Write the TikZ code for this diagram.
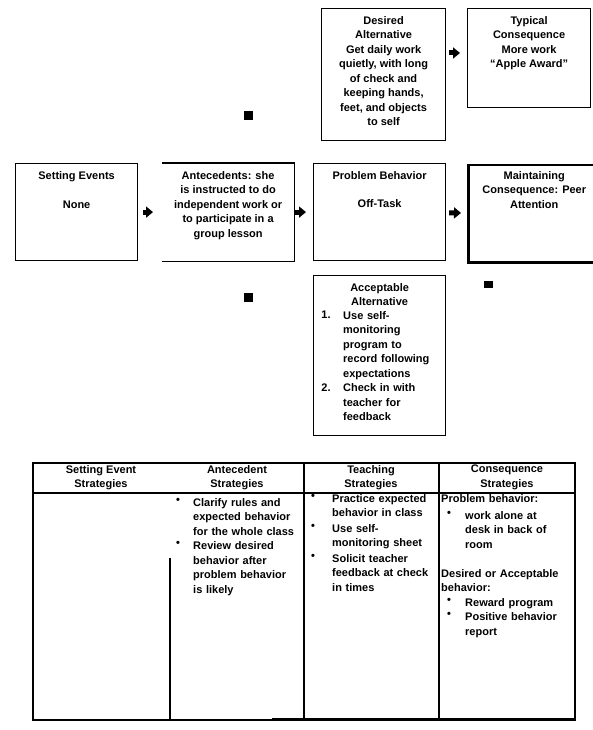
\documentclass[tikz,border=0pt]{standalone}
\usepackage{fontspec}
\setmainfont{Liberation Sans}
\usetikzlibrary{arrows.meta}
\tikzset{
  box/.style={draw, line width=1.2pt, anchor=north west, inner sep=0pt},
  boxtext/.style={anchor=north, align=center, inner sep=0pt, font=\bfseries\fontsize{11}{14.5}\selectfont},
  celltext/.style={anchor=north west, align=left, inner sep=0pt, font=\bfseries\fontsize{11}{14.5}\selectfont},
  dotmark/.style={anchor=north, inner sep=0pt, font=\bfseries\fontsize{11}{14.5}\selectfont},
  arr/.style={-{Triangle[length=7pt,width=11pt]}, line width=5pt, shorten <=5pt, shorten >=9pt},
}
\begin{document}
\begin{tikzpicture}[x=1pt,y=-1pt] % pathway and strategy table
  \useasboundingbox (0,0) rectangle (593,730);
  % pathway boxes
  \node[box, minimum width=124pt, minimum height=132pt] (desired) at (321,8) {};
  \node[box, minimum width=123pt, minimum height=99pt] (typical) at (467,8) {};
  \node[box, minimum width=122pt, minimum height=97pt] (setting) at (15,163) {};
  \node[box, draw=none, minimum width=131pt, minimum height=97pt] (ante) at (162,163) {};
  \draw[line width=1.2pt] (ante.north west) -- (ante.north east) -- (ante.south east) -- (ante.south west);
  \node[box, minimum width=132pt, minimum height=97pt] (problem) at (313,163) {};
  \node[box, line width=2.5pt, minimum width=132pt, minimum height=97pt] (maint) at (467,164) {};
  \node[box, minimum width=132pt, minimum height=160pt] (accept) at (313,275) {};
  % box texts
  \node[boxtext] (desiredtxt) at ([yshift=-8pt]desired.north) {Desired\\Alternative\\Get daily work\\quietly, with long\\of check and\\keeping hands,\\feet, and objects\\to self};
  \node[boxtext] (typicaltxt) at ([yshift=-8pt]typical.north) {Typical\\Consequence\\More work\\``Apple Award''};
  \node[boxtext] (settingtxt) at ([yshift=-8pt]setting.north) {Setting Events\\[15pt]None};
  \node[boxtext] (antetxt) at ([yshift=-8pt]ante.north) {Antecedents: she\\is instructed to do\\independent work or\\to participate in a\\group lesson};
  \node[boxtext] (problemtxt) at ([yshift=-8pt]problem.north) {Problem Behavior\\[14pt]Off-Task};
  \node[boxtext] (mainttxt) at ([yshift=-7pt]maint.north) {Maintaining\\Consequence: Peer\\Attention};
  \node[boxtext] (accepttxt) at ([yshift=-8pt]accept.north) {Acceptable\\Alternative};
  \node[dotmark] (acceptn1) at (326,311) {1.};
  \node[celltext, text width=98pt] (accepti1) at (343,311) {Use self-\\monitoring\\program to\\record following\\expectations};
  \node[dotmark] (acceptn2) at (326,383.5) {2.};
  \node[celltext, text width=98pt] (accepti2) at (343,383.5) {Check in with\\teacher for\\feedback};
  % arrows
  \draw[arr] (setting) -- (ante);
  \draw[arr, shorten <=1pt, shorten >=7pt] (ante) -- (problem);
  \draw[arr, shorten <=3pt, shorten >=6pt] (problem) -- (maint);
  \draw[arr, shorten <=3pt, shorten >=7pt] ([yshift=-45pt]desired.north east) -- ([yshift=-45pt]typical.north west);
  % small marks
  \fill (244,111) rectangle (253,120);
  \fill (244,293) rectangle (253,302);
  \fill (484,281) rectangle (493,288);
  % table
  \draw[line width=1.2pt] (33,463) rectangle (575,720);
  \draw[line width=1.2pt] (33,493) -- (575,493);
  \draw[line width=1.2pt] (170,558) -- (170,720);
  \draw[line width=1.2pt] (304,463) -- (304,720);
  \draw[line width=1.2pt] (439,463) -- (439,720);
  \draw[line width=2.4pt] (272,719) -- (575,719);
  \node[boxtext] (head1) at (101,465) {Setting Event\\Strategies};
  \node[boxtext] (head2) at (237,465) {Antecedent\\Strategies};
  \node[boxtext] (head3) at (371,465) {Teaching\\Strategies};
  \node[boxtext] (head4) at (507,465) {Consequence\\Strategies};
  % antecedent column
  \node[dotmark] (ab1) at (178,498) {\textbullet};
  \node[celltext, text width=108pt] (ai1) at (193,498) {Clarify rules and\\expected behavior\\for the whole class};
  \node[dotmark] (ab2) at (178,541.5) {\textbullet};
  \node[celltext, text width=108pt] (ai2) at (193,541.5) {Review desired\\behavior after\\problem behavior\\is likely};
  % teaching column
  \node[dotmark] (tb1) at (313,494) {\textbullet};
  \node[celltext, text width=104pt] (ti1) at (332,494) {Practice expected\\behavior in class};
  \node[dotmark] (tb2) at (313,524) {\textbullet};
  \node[celltext, text width=104pt] (ti2) at (332,524) {Use self-\\monitoring sheet};
  \node[dotmark] (tb3) at (313,554) {\textbullet};
  \node[celltext, text width=104pt] (ti3) at (332,554) {Solicit teacher\\feedback at check\\in times};
  % consequence column
  \node[celltext, text width=132pt] (cp) at (441,494) {Problem behavior:};
  \node[dotmark] (cb1) at (449,511) {\textbullet};
  \node[celltext, text width=106pt] (ci1) at (465,511) {work alone at\\desk in back of\\room};
  \node[celltext, text width=132pt] (cd) at (441,569) {Desired or Acceptable\\behavior:};
  \node[dotmark] (cb2) at (449,598) {\textbullet};
  \node[celltext, text width=106pt] (ci2) at (465,598) {Reward program};
  \node[dotmark] (cb3) at (449,612.5) {\textbullet};
  \node[celltext, text width=106pt] (ci3) at (465,612.5) {Positive behavior\\report};
\end{tikzpicture}
\end{document}
